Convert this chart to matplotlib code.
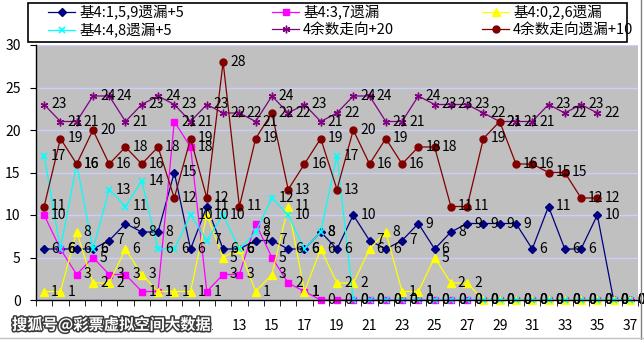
import matplotlib
matplotlib.use("Agg")
import matplotlib.pyplot as plt
import matplotlib.patheffects as pe
from matplotlib.lines import Line2D
from matplotlib.patches import Rectangle
import numpy as np

plt.rcParams['font.family'] = ['Noto Sans CJK SC', 'DejaVu Sans']

# period numbers on the category axis
periods = list(range(1, 38))
tick_periods = list(range(1, 38, 2))

# one list per series, values by period
miss_159 = [6, 6, 6, 6, 7, 9, 8, 8, 15, 6, 11, 6, 6, 7, 7, 6, 6, 8, 6, 10,
            7, 6, 7, 9, 6, 8, 9, 9, 9, 9, 6, 11, 6, 6, 10, 0, 0]
miss_37 = [10, 6, 3, 5, 3, 3, 1, 1, 21, 18, 1, 3, 3, 9, 5, 2, 1, 0, 0, 0,
           0, 0, 0, 0, 0, 0, 0, 0, 0, 0, 0, 0, 0, 0, 0, 0, 0]
miss_026 = [1, 1, 8, 2, 2, 6, 3, 1, 1, 1, 10, 5, 6, 1, 3, 11, 1, 6, 2, 2,
            6, 8, 1, 1, 5, 2, 2, 0, 0, 0, 0, 0, 0, 0, 0, 0, 0]
miss_48 = [17, 6, 16, 6, 13, 11, 14, 6, 6, 10, 7, 10, 6, 8, 12, 10, 6, 8, 17, 0,
           0, 0, 0, 0, 0, 0, 0, 0, 0, 0, 0, 0, 0, 0, 0, 0, 0]
trend_20 = [23, 21, 21, 24, 24, 21, 23, 24, 23, 21, 23, 22, 22, 21, 24, 22, 23, 21, 22, 24,
            24, 21, 21, 24, 23, 23, 23, 22, 21, 21, 21, 23, 22, 23, 22]
trend_miss_10 = [11, 19, 16, 20, 16, 18, 16, 18, 12, 19, 12, 28, 11, 19, 22, 13, 16, 19, 13, 20,
                 16, 19, 16, 18, 18, 11, 11, 19, 21, 16, 16, 15, 15, 12, 12]

series_names = ["基4:1,5,9遗漏+5", "基4:3,7遗漏", "基4:0,2,6遗漏",
                "基4:4,8遗漏+5", "4余数走向+20", "4余数走向遗漏+10"]
series_values = [miss_159, miss_37, miss_026, miss_48, trend_20, trend_miss_10]

styles = [
    dict(color="#000080", marker="D", ms=4.5),
    dict(color="#ff00ff", marker="s", ms=5),
    dict(color="#ffff00", marker="^", ms=6),
    dict(color="#00ffff", marker="x", ms=4.5, mew=1.2),
    dict(color="#800080", marker=(6, 2, 0), ms=5.5, mew=1),
    dict(color="#800000", marker="o", ms=5),
]

fig = plt.figure(figsize=(6.44, 3.40), dpi=100)
ax = fig.add_axes([36 / 644, 40 / 340, 602 / 644, 255 / 340])
ax.set_facecolor("#c0c0c0")

handles = []
for name, vals, st in zip(series_names, series_values, styles):
    xs = periods[:len(vals)]
    line, = ax.plot(xs, vals, lw=0.9, label=name, clip_on=False, **st)
    handles.append(line)
    for x, v in zip(xs, vals):
        ax.annotate(str(v), (x, v), xytext=(7, 0), textcoords="offset pixels",
                    ha="left", va="center", fontsize=10, color="black",
                    annotation_clip=False, zorder=5)

ax.set_xlim(0.5, 37.5)
ax.set_ylim(0, 30)
ax.set_yticks(range(0, 31, 5))
ax.set_xticks(tick_periods)
ax.set_xticks(np.arange(0.5, 38, 1), minor=True)
ax.tick_params(axis="x", which="major", length=0, pad=14, labelsize=10)
ax.tick_params(axis="x", which="minor", length=4, direction="out")
ax.tick_params(axis="y", length=4, direction="out", pad=7, labelsize=10)

ax.yaxis.grid(True, color="#ccccff", lw=1)
ax.set_axisbelow(True)
for side in ("top", "right"):
    ax.spines[side].set_visible(False)
for side in ("left", "bottom"):
    ax.spines[side].set_color("black")
    ax.spines[side].set_linewidth(1)

# legend box, entries laid out row by row in three columns
fig.add_artist(Rectangle((28 / 644, 1 - 42 / 340), 599 / 644, 39 / 340,
                         transform=fig.transFigure, facecolor="white",
                         edgecolor="black", lw=1.2))
order = [0, 3, 1, 4, 2, 5]
leg = fig.legend(handles=[handles[i] for i in order], ncol=3, loc="upper left",
                 bbox_to_anchor=(47 / 644, 1 - 41 / 340, 588 / 644, 37 / 340),
                 mode="expand", fontsize=10.5, frameon=False, borderaxespad=0,
                 handlelength=1.85, handletextpad=0.27, labelspacing=0.15,
                 borderpad=0.1, columnspacing=0.0)

# chart border on the right and bottom
fig.add_artist(Line2D([641 / 644, 641 / 644], [0, 1], color="#808080", lw=1))
fig.add_artist(Line2D([0, 1], [2 / 340, 2 / 340], color="#c0c0c0", lw=1))

# watermark sits over the first tick labels
fig.text(12 / 644, 1 - 325 / 340, "搜狐号@彩票虚拟空间大数据", color="white",
         fontsize=11, fontweight="bold", va="center", zorder=10,
         bbox=dict(facecolor="white", edgecolor="none", pad=1),
         path_effects=[pe.withStroke(linewidth=2.2, foreground="#3a3a3a")])

fig.savefig("out.png", dpi=100)
